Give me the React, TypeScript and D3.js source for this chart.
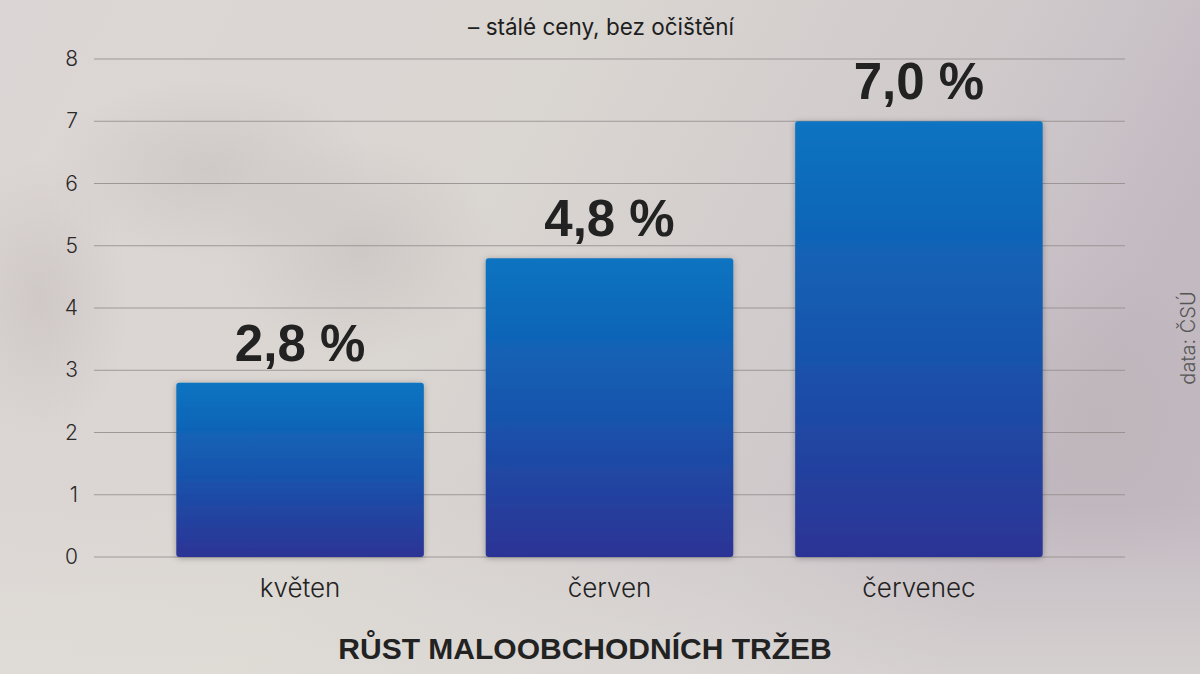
import React from "react";
import * as d3 from "d3";

const categories = ["květen", "červen", "červenec"];
const values = [2.8, 4.8, 7.0];
const valueLabels = ["2,8 %", "4,8 %", "7,0 %"];
const yTicks = [0, 1, 2, 3, 4, 5, 6, 7, 8];
const subtitle = "– stálé ceny, bez očištění";
const title = "RŮST MALOOBCHODNÍCH TRŽEB";
const source = "data: ČSÚ";

const W = 1200;
const H = 674;

export default function App() {
  const x = d3
    .scaleBand<string>()
    .domain(categories)
    .range([94, 1125])
    .paddingInner(0.2)
    .paddingOuter(0.266);
  const y = d3.scaleLinear().domain([0, 8]).range([557, 59]);
  const font = "'Liberation Sans', Arial, sans-serif";
  const light = "Inter, 'Liberation Sans', sans-serif";

  return (
    <svg
      width={W}
      height={H}
      viewBox={`0 0 ${W} ${H}`}
      style={{ position: "absolute", left: 0, top: 0, display: "block" }}
    >
      <defs>
        <linearGradient id="bg" x1="0" y1="0" x2="1" y2="0.3">
          <stop offset="0" stopColor="#dcd5d5" />
          <stop offset="0.45" stopColor="#dad6d1" />
          <stop offset="0.8" stopColor="#cfc9cb" />
          <stop offset="1" stopColor="#c2b9c1" />
        </linearGradient>
        <linearGradient id="bgv" x1="0" y1="0" x2="0" y2="1">
          <stop offset="0" stopColor="#ffffff" stopOpacity="0" />
          <stop offset="0.75" stopColor="#e4e2dc" stopOpacity="0" />
          <stop offset="1" stopColor="#e2e0da" stopOpacity="0.6" />
        </linearGradient>
        <radialGradient id="blob" cx="0.5" cy="0.5" r="0.5">
          <stop offset="0" stopColor="#b8b0b0" stopOpacity="0.35" />
          <stop offset="1" stopColor="#b8b0b0" stopOpacity="0" />
        </radialGradient>
        <linearGradient id="bar" x1="0" y1="0" x2="0" y2="1" gradientUnits="objectBoundingBox">
          <stop offset="0" stopColor="#0a74c1" />
          <stop offset="0.5" stopColor="#1756ae" />
          <stop offset="1" stopColor="#2c3395" />
        </linearGradient>
        <filter id="shadow" x="-10%" y="-10%" width="120%" height="120%">
          <feDropShadow dx="0" dy="1" stdDeviation="3" floodColor="#000" floodOpacity="0.3" />
        </filter>
      </defs>
      <rect x={0} y={0} width={W} height={H} fill="url(#bg)" />
      <rect x={0} y={0} width={W} height={H} fill="url(#bgv)" />
      <ellipse cx={210} cy={170} rx={160} ry={90} fill="url(#blob)" />
      <ellipse cx={360} cy={250} rx={140} ry={110} fill="url(#blob)" />
      <ellipse cx={40} cy={300} rx={90} ry={140} fill="url(#blob)" />
      <ellipse cx={1100} cy={420} rx={130} ry={160} fill="url(#blob)" />

      {yTicks.map((t) => (
        <g key={t}>
          <line
            x1={94}
            x2={1125}
            y1={y(t)}
            y2={y(t)}
            stroke="#8f8a8a"
            strokeWidth={1.2}
            opacity={0.8}
          />
          <text
            x={78}
            y={y(t) + 7}
            textAnchor="end"
            fontFamily={light}
            fontWeight={300}
            fontSize={21}
            fill="#2a2a2a"
          >
            {t}
          </text>
        </g>
      ))}

      {categories.map((c, i) => (
        <g key={c}>
          <rect
            x={x(c)}
            y={y(values[i])}
            width={x.bandwidth()}
            height={y(0) - y(values[i])}
            rx={3}
            ry={3}
            fill="url(#bar)"
            filter="url(#shadow)"
          />
          <text
            x={(x(c) as number) + x.bandwidth() / 2}
            y={y(values[i]) - 22}
            textAnchor="middle"
            fontFamily={font}
            fontWeight={700}
            fontSize={51}
            fill="#222"
          >
            {valueLabels[i]}
          </text>
          <text
            x={(x(c) as number) + x.bandwidth() / 2}
            y={597}
            textAnchor="middle"
            fontFamily={light}
            fontWeight={300}
            fontSize={26}
            fill="#222"
          >
            {c}
          </text>
        </g>
      ))}

      <text
        x={601}
        y={35}
        textAnchor="middle"
        fontFamily={light}
        fontWeight={400}
        fontSize={22.5}
        fill="#1e1e1e"
      >
        {subtitle}
      </text>
      <text
        x={585}
        y={659}
        textAnchor="middle"
        fontFamily={font}
        fontWeight={700}
        fontSize={30}
        fill="#222"
      >
        {title}
      </text>
      <text
        transform={`translate(1195, 338) rotate(-90)`}
        textAnchor="middle"
        fontFamily={light}
        fontWeight={300}
        fontSize={20}
        fill="#555"
      >
        {source}
      </text>
    </svg>
  );
}
